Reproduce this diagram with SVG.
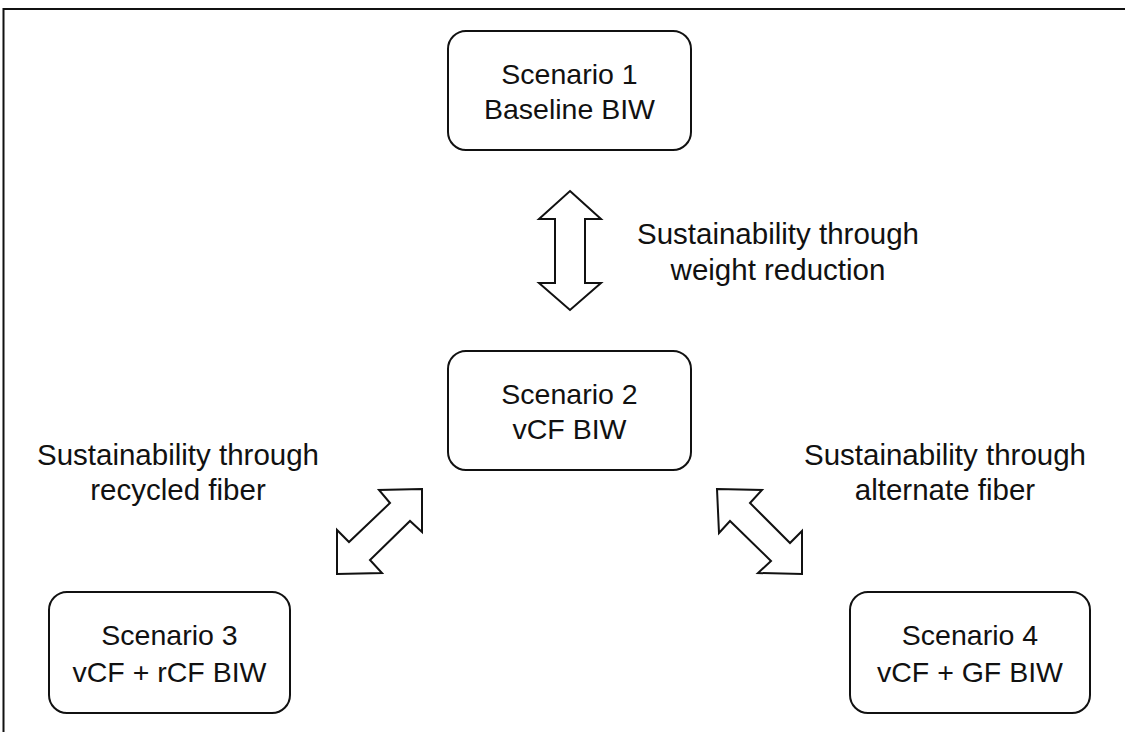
<svg xmlns="http://www.w3.org/2000/svg" width="1125" height="732" viewBox="0 0 1125 732">
<style>
.box{fill:#fff;stroke:#111;stroke-width:2}
.arr{fill:#fff;stroke:#111;stroke-width:2;stroke-linejoin:miter}
.t{font-family:"Liberation Sans",Arial,Helvetica,sans-serif;font-size:28.5px;fill:#111;text-anchor:middle}
.l{font-family:"Liberation Sans",Arial,Helvetica,sans-serif;font-size:29.5px;fill:#111;text-anchor:middle}
</style>
<rect x="0" y="0" width="1125" height="732" fill="#fff"/>
<rect x="3.5" y="9" width="1140" height="740" fill="none" stroke="#111" stroke-width="2"/>
<g id="connectors">
<polygon class="arr" points="570,191 601,219 585,219 585,283 601,283 570,310 539,283 555,283 555,219 539,219"/>
<polygon class="arr" points="422,489 379,490 390,503 349,542 337,530 337,574 382,573 370,560 410,521 422,532"/>
<polygon class="arr" points="717,489 762,490 750,503 790,543 802,531 802,574 758,573 771,561 730,521 719,533"/>
</g>
<g id="node1">
<rect class="box" x="448" y="31" width="243" height="119" rx="18"/>
<text class="t" x="569.5" y="84">Scenario 1</text>
<text class="t" x="569.5" y="119">Baseline BIW</text>
</g>
<g id="node2">
<rect class="box" x="448" y="351" width="243" height="119" rx="18"/>
<text class="t" x="569.5" y="404">Scenario 2</text>
<text class="t" x="569.5" y="439">vCF BIW</text>
</g>
<g id="node3">
<rect class="box" x="49" y="592" width="241" height="121" rx="18"/>
<text class="t" x="169.5" y="645">Scenario 3</text>
<text class="t" x="169.5" y="682">vCF + rCF BIW</text>
</g>
<g id="node4">
<rect class="box" x="850" y="592" width="240" height="121" rx="18"/>
<text class="t" x="970" y="645">Scenario 4</text>
<text class="t" x="970" y="682">vCF + GF BIW</text>
</g>
<g id="label-weight">
<text class="l" x="778" y="244">Sustainability through</text>
<text class="l" x="778" y="280">weight reduction</text>
</g>
<g id="label-recycled">
<text class="l" x="178" y="465">Sustainability through</text>
<text class="l" x="178" y="500">recycled fiber</text>
</g>
<g id="label-alternate">
<text class="l" x="945" y="465">Sustainability through</text>
<text class="l" x="945" y="500">alternate fiber</text>
</g>
</svg>
